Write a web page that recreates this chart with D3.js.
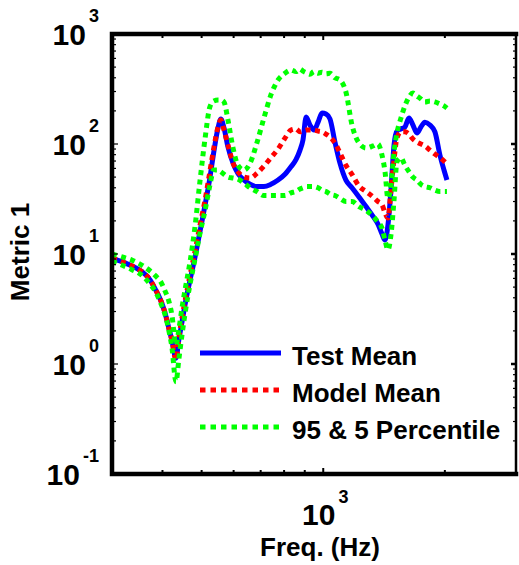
<!DOCTYPE html>
<html>
<head>
<meta charset="utf-8">
<script src="https://cdn.jsdelivr.net/npm/d3@7"></script>
<style>
  body { margin: 0; background: #fff; }
  text { font-family: "Liberation Sans", Arial, Helvetica, sans-serif; font-weight: bold; fill: #000; }
</style>
</head>
<body>
<svg id="chart" width="519" height="565"></svg>
<script>
// Frequency grid (Hz)
const freq = [300,318,336,356,373,385,397,406,415,422,432,439,447,457,468,481,495,510,524,536,
  549,558,568,581,598,615,637,659,685,713,742,773,804,832,856,876,891,907,927,949,
  971,993,1016,1039,1069,1100,1138,1178,1226,1276,1328,1366,1398,1422,1446,1471,1497,1522,1557,1593,
  1630,1667,1706,1745,1785,1837,1890,1945,1990,2024];

// Measured mean response
const testMean = [9.2,8.5,7.8,6.9,5.8,4.7,3.7,2.9,2.1,1.65, 1.13,1.65,2.4,3.8,5.8,9.2,15.8,28,49,85,
  140,169,140,94,67,54,47,43,41,41, 43,47,53,62,72,88,109,176,149,134,
  158,191,187,169,104,67,47,40,33,27, 22,18.7,15.2,13.4,18.3,38,98,131,137,143,
  172,149,126,143,158,149,129,79,58,47];

// Model mean response
const modelMean = [9.2,8.5,7.8,6.9,5.8,4.7,3.7,2.9,2.1,1.65, 1.09,1.72,2.62,4.1,6.4,10.4,18,31,56,92,
  143,165,134,98,67,56,50,49,54,63, 75,90,113,134,137,129,131,134,134,134,
  131,129,123,116,102,83,64,53,41.5,37, 33,30,28,23.6,21.2,38,72,113,129,129,
  123,111,104,100,96,88,81,75,70,66];

// Model 95th percentile
const pct95 = [10,9.4,8.8,7.9,7.0,6.3,5.5,4.6,3.7,2.8, 1.49,2.04,3.23,5.2,8.5,17.2,45,113,217,246,
  251,251,241,165,92,64,58,67,102,172, 279,382,440,470,455,480,460,445,430,455,
  440,450,435,440,400,382,297,149,102,92, 96,100,79,56,32,42,85,126,172,222,
  267,291,273,257,241,246,241,231,222,212];

// Model 5th percentile
const pct5 = [8.6,7.9,7.2,6.4,5.3,4.5,3.5,2.8,2.0,1.43, 0.69,1.09,1.83,3.2,5.3,8.8,15.2,25,42,58,
  58,56,53,50,49,48,44,40,37,34, 34,34,34,36,37,39,40,41,41,41,
  40,38,37,35,34,32,30,30,27,25, 22,19.5,17.2,13.4,10.9,14.9,31,69,75,64,
  56,50,47,43,41,40,38,37,37,37];

const yTickExponents = [-1, 0, 1, 2, 3];
const xTickExponents = [3];
const legendLabels = ["Test Mean", "Model Mean", "95 & 5 Percentile"];
const xLabel = "Freq. (Hz)";
const yLabel = "Metric 1";

(function draw() {
  const svg = d3.select("#chart");
  const pL = 112, pR = 516, pT = 34, pB = 474;

  const x = d3.scaleLog().domain([300, 3000]).range([pL, pR]);
  const y = d3.scaleLog().domain([0.1, 1000]).range([pB, pT]);

  svg.append("defs").append("clipPath").attr("id", "plotArea")
    .append("rect").attr("x", pL).attr("y", pT)
    .attr("width", pR - pL).attr("height", pB - pT);

  const line = d3.line()
    .x((d, i) => x(freq[i]))
    .y(d => y(d))
    .curve(d3.curveMonotoneX);

  const series = [
    { values: testMean,  color: "#0000ff", dash: null,    width: 5 },
    { values: modelMean, color: "#ff0000", dash: "5 4.5", width: 5 },
    { values: pct95,     color: "#00ff00", dash: "5 4.5", width: 5 },
    { values: pct5,      color: "#00ff00", dash: "5 4.5", width: 5 }
  ];

  const plot = svg.append("g").attr("clip-path", "url(#plotArea)");
  series.forEach(s => {
    plot.append("path")
      .attr("d", line(s.values))
      .attr("fill", "none")
      .attr("stroke", s.color)
      .attr("stroke-width", s.width)
      .attr("stroke-dasharray", s.dash)
      .attr("stroke-linejoin", "round");
  });

  // Tick marks (inward, on all four sides)
  const ticks = svg.append("g").attr("stroke", "#000").attr("stroke-width", 1.2);
  const yMinor = [];
  for (let e = -1; e < 3; e++) for (let m = 2; m <= 9; m++) yMinor.push(m * Math.pow(10, e));
  yMinor.forEach(v => {
    ticks.append("line").attr("x1", pL).attr("x2", pL + 4).attr("y1", y(v)).attr("y2", y(v));
    ticks.append("line").attr("x1", pR).attr("x2", pR - 3).attr("y1", y(v)).attr("y2", y(v));
  });
  yTickExponents.forEach(e => {
    const v = Math.pow(10, e);
    ticks.append("line").attr("x1", pL).attr("x2", pL + 6).attr("y1", y(v)).attr("y2", y(v));
    ticks.append("line").attr("x1", pR).attr("x2", pR - 5).attr("y1", y(v)).attr("y2", y(v)).attr("stroke-width", 2.5);
  });
  const xMinor = [400, 500, 600, 700, 800, 900, 2000];
  xMinor.forEach(v => {
    ticks.append("line").attr("x1", x(v)).attr("x2", x(v)).attr("y1", pB).attr("y2", pB - 4).attr("stroke-width", 2);
    ticks.append("line").attr("x1", x(v)).attr("x2", x(v)).attr("y1", pT).attr("y2", pT + 4).attr("stroke-width", 2);
  });
  xTickExponents.forEach(e => {
    const v = Math.pow(10, e);
    ticks.append("line").attr("x1", x(v)).attr("x2", x(v)).attr("y1", pB).attr("y2", pB - 6).attr("stroke-width", 2);
    ticks.append("line").attr("x1", x(v)).attr("x2", x(v)).attr("y1", pT).attr("y2", pT + 6).attr("stroke-width", 2);
  });

  // Axes frame
  const frame = svg.append("g").attr("stroke", "#000").attr("fill", "none");
  frame.append("path").attr("d", `M${pR},${pT}H${pL}V${pB}H${pR}`)
    .attr("stroke-width", 4.5).attr("stroke-linecap", "square");
  frame.append("line").attr("x1", pR).attr("x2", pR).attr("y1", pT).attr("y2", pB)
    .attr("stroke-width", 2.5);

  // Y tick labels: 10 with superscript exponent
  yTickExponents.forEach(e => {
    const t = svg.append("text")
      .attr("x", 99).attr("y", y(Math.pow(10, e)) + 11)
      .attr("text-anchor", "end")
      .style("font-size", "30px");
    t.append("tspan").text("10");
    t.append("tspan").attr("dx", 3).attr("dy", -23).style("font-size", "18px").text(String(e));
  });

  // X tick labels
  xTickExponents.forEach(e => {
    const t = svg.append("text")
      .attr("x", x(Math.pow(10, e)) + 2).attr("y", 525)
      .attr("text-anchor", "middle")
      .style("font-size", "30px");
    t.append("tspan").text("10");
    t.append("tspan").attr("dx", 3).attr("dy", -22).style("font-size", "18px").text(String(e));
  });

  // Axis titles
  svg.append("text").attr("x", 320).attr("y", 556).attr("text-anchor", "middle")
    .style("font-size", "26px").text(xLabel);
  svg.append("text").attr("transform", "translate(29,252) rotate(-90)")
    .attr("text-anchor", "middle").style("font-size", "26px").text(yLabel);

  // Legend (no box)
  const legendRows = [
    { color: "#0000ff", dash: null },
    { color: "#ff0000", dash: "5.5 5" },
    { color: "#00ff00", dash: "5.5 5" }
  ];
  const legend = svg.append("g");
  legendRows.forEach((r, i) => {
    const ly = 353 + i * 37;
    legend.append("line").attr("x1", 200).attr("x2", 281).attr("y1", ly).attr("y2", ly)
      .attr("stroke", r.color).attr("stroke-width", 5).attr("stroke-dasharray", r.dash);
    legend.append("text").attr("x", 292).attr("y", ly + 12)
      .style("font-size", "26px").text(legendLabels[i]);
  });
})();
</script>
</body>
</html>
